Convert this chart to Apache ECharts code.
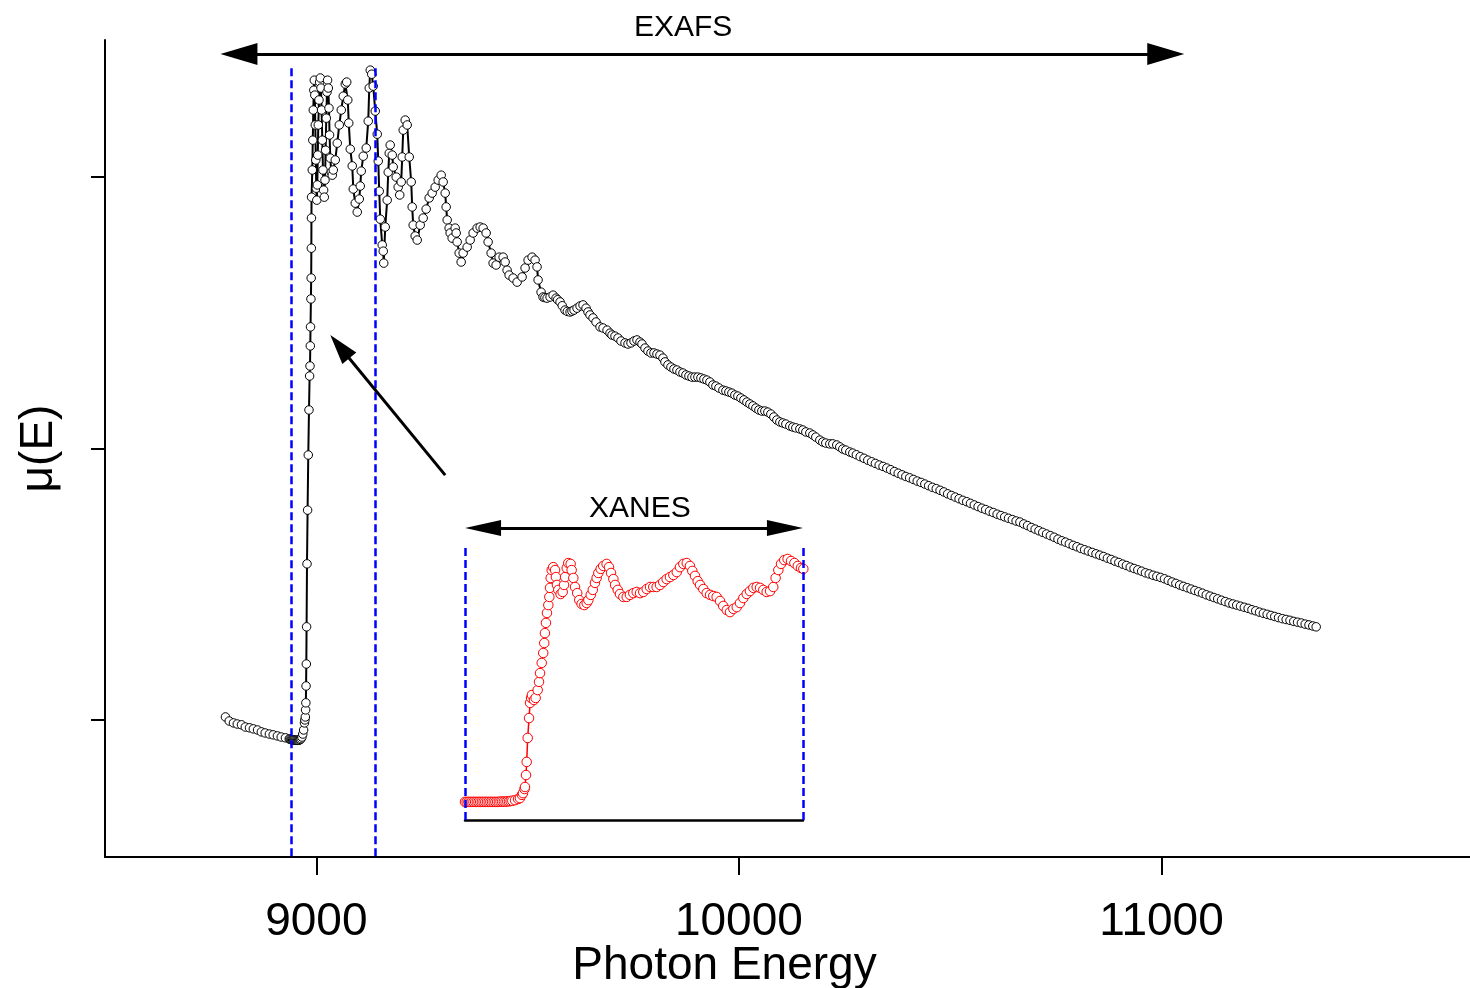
<!DOCTYPE html>
<html>
<head>
<meta charset="utf-8">
<script src="https://cdn.jsdelivr.net/npm/echarts@6/dist/echarts.min.js"></script>
<style>
  html, body { margin: 0; padding: 0; background: #fff; }
  #main { width: 1470px; height: 988px; }
</style>
</head>
<body>
<div id="main"></div>
<script>
// main spectrum, [energy eV, mu(E)]
const preEdge = [
  [8785, 0.011], [8794, -0.004], [8804, -0.011], [8813, -0.015], [8823, -0.018], [8832, -0.026],
  [8842, -0.029], [8851, -0.033], [8861, -0.037], [8870, -0.044], [8879, -0.048], [8889, -0.052],
  [8898, -0.055], [8908, -0.059], [8917, -0.063], [8927, -0.066], [8936, -0.070],
  [8938, -0.071], [8940, -0.072], [8942, -0.073], [8944, -0.074], [8946, -0.074], [8948, -0.075],
  [8950, -0.075], [8952, -0.075], [8954, -0.075], [8956, -0.075], [8958, -0.075], [8960, -0.074],
  [8962, -0.072], [8964, -0.069],
];
const edge = [
  [8966, -0.063], [8968, -0.052], [8970, -0.037], [8972, -0.011], [8973, 0.0], [8974, 0.011],
  [8974.7, 0.037], [8975.3, 0.063], [8975.8, 0.125], [8976.4, 0.206], [8977, 0.343], [8978, 0.575],
  [8979.4, 0.773], [8981, 0.976], [8982.7, 1.142], [8984.2, 1.267], [8985.1, 1.304], [8985.8, 1.378],
  [8986.3, 1.448], [8987.3, 1.551], [8987.9, 1.628], [8988.3, 1.738], [8988.5, 1.849], [8988.8, 1.926],
];
const whiteLine = [
  [8990.5, 2.026], [8991.7, 2.136], [8992.9, 2.247], [8994.1, 2.32], [8995.3, 2.357], [8996.5, 2.302],
  [8997.6, 2.192], [8998.8, 2.063], [9000, 1.959], [9001.2, 1.915], [9002.4, 1.971], [9003.5, 2.081],
  [9004.7, 2.192], [9006.4, 2.284], [9007.8, 2.35], [9009.5, 2.365], [9011.1, 2.328], [9012.5, 2.247],
  [9014.2, 2.136], [9015.8, 2.026], [9017.3, 1.952], [9018.9, 1.926], [9020.6, 1.989], [9022, 2.099],
  [9023.6, 2.217], [9025.3, 2.313], [9026.7, 2.357], [9028.4, 2.328], [9030, 2.254], [9031.4, 2.155],
  [9033.1, 2.07], [9035.5, 2.018], [9037.8, 2.007], [9040.2, 2.026], [9044.9, 2.063], [9049.6, 2.125],
  [9054.4, 2.192], [9059.1, 2.247], [9063.8, 2.298], [9068.6, 2.343], [9072, 2.35], [9074.5, 2.284],
  [9076.8, 2.199], [9080.4, 2.103], [9085.1, 2.041], [9087.5, 1.956], [9092.2, 1.904], [9096.9, 1.871],
  [9101.7, 1.919], [9104, 1.967], [9106.4, 2.022], [9111.1, 2.077], [9118.2, 2.107], [9122.9, 2.206],
  [9125.3, 2.328], [9127.7, 2.394], [9131.2, 2.379], [9134.7, 2.335], [9139.5, 2.243], [9144.2, 2.158],
  [9146.6, 2.059], [9148.9, 1.948], [9151.3, 1.845], [9156, 1.75], [9158.4, 1.727], [9159.6, 1.683],
];
const oscillations = [
  [9163.1, 1.816], [9167.8, 1.915], [9170.2, 2.018], [9172.6, 2.088], [9174.9, 2.118], [9179.7, 2.081],
  [9182, 2.037], [9189.1, 2.0], [9193.8, 1.963], [9197.4, 1.934], [9200.9, 1.982], [9203.3, 2.074],
  [9205.7, 2.173], [9210.4, 2.21], [9215.1, 2.192], [9219.9, 2.074], [9224.6, 1.982], [9226.9, 1.89],
  [9229.3, 1.823], [9234, 1.783], [9238.8, 1.768], [9245.9, 1.823], [9252.9, 1.849], [9260, 1.882],
  [9267.1, 1.923], [9274.2, 1.941], [9281.3, 1.963], [9288.4, 1.989], [9295.5, 2.007], [9300.2, 1.982],
  [9305, 1.941], [9307.3, 1.89], [9309.7, 1.842], [9314.4, 1.812], [9316.8, 1.794], [9321.5, 1.775],
  [9328.6, 1.812], [9331, 1.794], [9333.3, 1.761], [9338.1, 1.72], [9342.8, 1.687], [9347.5, 1.72],
  [9357, 1.742], [9364.1, 1.768], [9371.1, 1.794], [9380.6, 1.812], [9387.7, 1.816], [9394.8, 1.812],
  [9401.9, 1.794], [9406.6, 1.761], [9413.7, 1.72], [9418.4, 1.683], [9425.5, 1.676], [9432.6, 1.705],
  [9442.1, 1.705], [9446.8, 1.687], [9451.5, 1.657], [9456.3, 1.639], [9465.7, 1.628], [9475.2, 1.613],
  [9487, 1.632], [9494.1, 1.665], [9501.2, 1.694], [9510.6, 1.705], [9517.7, 1.694], [9522.4, 1.669],
  [9524.8, 1.621], [9531.9, 1.576], [9536.6, 1.558], [9541, 1.556], [9546.1, 1.554], [9553.2, 1.558],
  [9560.3, 1.565], [9567.4, 1.554], [9571, 1.548], [9576.8, 1.54], [9582, 1.526], [9588.6, 1.51],
  [9594, 1.505], [9600.5, 1.503], [9605, 1.506], [9609.9, 1.51], [9617, 1.517], [9624.1, 1.525],
  [9631.2, 1.529], [9638.3, 1.517], [9643, 1.503], [9647.7, 1.492], [9654.8, 1.481], [9661.9, 1.466],
  [9671.4, 1.448], [9678.5, 1.444], [9688, 1.436], [9695, 1.425], [9699.7, 1.418], [9706.8, 1.414],
  [9713.9, 1.407], [9721, 1.396], [9730.5, 1.389], [9737.6, 1.385], [9744.7, 1.389], [9751.8, 1.396],
  [9758.8, 1.4], [9765.9, 1.392], [9770.7, 1.385], [9777.8, 1.37], [9784.8, 1.359], [9791.9, 1.352],
  [9799, 1.352], [9806.1, 1.348], [9813.2, 1.344], [9820.3, 1.333], [9825, 1.319], [9832.1, 1.308],
  [9839.2, 1.3], [9846.3, 1.293], [9853.4, 1.289], [9860.5, 1.282], [9867.6, 1.278], [9874.7, 1.271],
  [9881.8, 1.267], [9888.9, 1.263], [9896, 1.263], [9903, 1.263], [9910.1, 1.26], [9917.2, 1.256],
  [9924.3, 1.252], [9931.4, 1.245], [9938.5, 1.234], [9945.6, 1.23], [9952.7, 1.223], [9962.1, 1.215],
  [9969.2, 1.212], [9976.3, 1.208], [9983.4, 1.204], [9990.5, 1.197], [9997.6, 1.193], [10004.7, 1.186],
  [10011.8, 1.179], [10018.9, 1.171], [10026, 1.164], [10033.1, 1.157], [10040.2, 1.149], [10047.3, 1.142],
  [10054.3, 1.138], [10061.4, 1.138], [10068.5, 1.134], [10075.6, 1.127], [10082.7, 1.116], [10089.8, 1.105],
  [10096.9, 1.098], [10104, 1.094], [10111.1, 1.09], [10120.5, 1.083], [10127.6, 1.079], [10134.7, 1.076],
  [10144.2, 1.072], [10151.3, 1.068], [10158.4, 1.061], [10167.8, 1.057], [10174.9, 1.05], [10182, 1.042],
  [10191.5, 1.031], [10198.5, 1.024], [10205.6, 1.02], [10215.1, 1.017], [10222.2, 1.017], [10231.6, 1.013],
  [10238.7, 1.006], [10245.8, 0.998], [10252.9, 0.994], [10262.4, 0.987], [10269.5, 0.983],
];
const tail = [
  [10278, 0.977], [10287, 0.97], [10296, 0.964], [10305, 0.957], [10314, 0.951], [10323, 0.945],
  [10332, 0.939], [10341, 0.934], [10350, 0.928], [10359, 0.922], [10368, 0.915], [10377, 0.909],
  [10386, 0.903], [10395, 0.897], [10404, 0.892], [10413, 0.886], [10422, 0.88], [10431, 0.875],
  [10440, 0.869], [10449, 0.863], [10458, 0.857], [10467, 0.852], [10476, 0.846], [10485, 0.84],
  [10494, 0.833], [10503, 0.827], [10512, 0.821], [10521, 0.815], [10530, 0.809], [10539, 0.804],
  [10548, 0.798], [10557, 0.792], [10566, 0.786], [10575, 0.78], [10584, 0.775], [10593, 0.769],
  [10602, 0.764], [10611, 0.758], [10620, 0.753], [10629, 0.748], [10638, 0.743], [10647, 0.738],
  [10656, 0.733], [10665, 0.729], [10674, 0.722], [10683, 0.716], [10692, 0.709], [10701, 0.703],
  [10710, 0.697], [10719, 0.691], [10728, 0.685], [10737, 0.679], [10746, 0.673], [10755, 0.666],
  [10764, 0.66], [10773, 0.655], [10782, 0.649], [10791, 0.643], [10800, 0.638], [10809, 0.632],
  [10818, 0.627], [10827, 0.622], [10836, 0.617], [10845, 0.612], [10854, 0.607], [10863, 0.602],
  [10872, 0.596], [10881, 0.591], [10890, 0.585], [10899, 0.58], [10908, 0.574], [10917, 0.569],
  [10926, 0.563], [10935, 0.558], [10944, 0.553], [10953, 0.548], [10962, 0.542], [10971, 0.538],
  [10980, 0.533], [10989, 0.529], [10998, 0.525], [11007, 0.52], [11016, 0.514], [11025, 0.508],
  [11034, 0.503], [11043, 0.497], [11052, 0.492], [11061, 0.487], [11070, 0.482], [11079, 0.477],
  [11088, 0.472], [11097, 0.467], [11106, 0.461], [11115, 0.456], [11124, 0.451], [11133, 0.446],
  [11142, 0.441], [11151, 0.436], [11160, 0.431], [11169, 0.427], [11178, 0.423], [11187, 0.419],
  [11196, 0.415], [11205, 0.411], [11214, 0.406], [11223, 0.402], [11232, 0.397], [11241, 0.393],
  [11250, 0.389], [11259, 0.385], [11268, 0.381], [11277, 0.377], [11286, 0.373], [11295, 0.37],
  [11304, 0.367], [11313, 0.363], [11322, 0.36], [11331, 0.357], [11340, 0.353], [11349, 0.35],
  [11358, 0.346], [11366, 0.343],
];

// XANES inset (normalised), [energy eV, value]
const xanesFlat = [
  [8940, 0.062], [8941, 0.062], [8942, 0.062], [8943, 0.062], [8944, 0.062], [8945, 0.062],
  [8946, 0.062], [8947, 0.062], [8948, 0.062], [8949, 0.062], [8950, 0.062], [8951, 0.062],
  [8952, 0.062], [8953, 0.062], [8954, 0.062], [8955, 0.062], [8956, 0.062], [8957, 0.062],
  [8958, 0.062], [8959, 0.062], [8960, 0.062], [8961, 0.063], [8962, 0.063], [8963, 0.063],
  [8964, 0.063], [8965, 0.064], [8966, 0.064], [8967, 0.065], [8968, 0.066],
];
const xanesPeaks = [
  [8969.6, 0.068], [8971.4, 0.072], [8972.5, 0.075], [8973.7, 0.086], [8974.3, 0.092], [8975.2, 0.106],
  [8975.5, 0.113], [8976.1, 0.154], [8976.5, 0.199], [8977.1, 0.281], [8977.9, 0.349], [8978.5, 0.401],
  [8979.1, 0.418], [8979.6, 0.428], [8980.8, 0.411], [8981.8, 0.418], [8983, 0.445], [8983.8, 0.473],
  [8984.4, 0.503], [8985.4, 0.538], [8986.3, 0.572], [8986.9, 0.606], [8987.3, 0.64], [8987.9, 0.675],
  [8988.5, 0.709], [8989.3, 0.736], [8989.9, 0.764], [8990.3, 0.795], [8990.7, 0.829], [8991.3, 0.856],
  [8992.2, 0.866], [8993.3, 0.856], [8993.8, 0.832], [8994.4, 0.805], [8995.2, 0.788], [8996.6, 0.774],
  [8997.8, 0.781], [8998.6, 0.805], [8999.2, 0.832], [9000.2, 0.863], [9001.1, 0.88], [9002.5, 0.877],
  [9003.1, 0.856], [9004.1, 0.829], [9005.1, 0.798], [9006.4, 0.777], [9007.6, 0.753], [9009, 0.74],
  [9010.6, 0.736], [9012, 0.743], [9013, 0.753], [9014.4, 0.771], [9015.6, 0.788], [9016.9, 0.812],
  [9017.9, 0.829], [9018.9, 0.846], [9020.3, 0.86], [9021.8, 0.87], [9023.8, 0.877], [9025.2, 0.866],
  [9026.4, 0.846], [9027.8, 0.825], [9028.8, 0.805], [9030.4, 0.788], [9031.7, 0.774], [9033.7, 0.764],
  [9035.7, 0.764], [9037.6, 0.771], [9039.6, 0.777], [9041.6, 0.781], [9043.6, 0.777], [9045.5, 0.781],
  [9047.5, 0.791], [9049.5, 0.798], [9051.4, 0.798], [9053.4, 0.798], [9055.4, 0.805], [9057.3, 0.815],
  [9059.3, 0.825], [9061.3, 0.832], [9063.3, 0.839], [9065.3, 0.849], [9067.2, 0.866], [9069.2, 0.877],
  [9071.2, 0.88], [9073.1, 0.87], [9074.5, 0.853], [9076.1, 0.836], [9077.7, 0.818], [9079.1, 0.805],
  [9081, 0.791], [9083, 0.777], [9085, 0.771], [9086.9, 0.767], [9088.9, 0.764], [9090.9, 0.75],
  [9092.8, 0.733], [9094.9, 0.719], [9096.8, 0.712], [9098.8, 0.723], [9100.8, 0.729], [9102.7, 0.743],
  [9104.7, 0.76], [9106.7, 0.774], [9108.6, 0.784], [9110.6, 0.795], [9112.6, 0.798], [9114.6, 0.795],
  [9116.5, 0.788], [9118.5, 0.781], [9120.5, 0.784], [9122.4, 0.798], [9123.8, 0.829], [9125.4, 0.856],
  [9127, 0.877], [9128.9, 0.89], [9130.9, 0.894], [9132.9, 0.887], [9134.9, 0.88], [9136.9, 0.87],
  [9138.8, 0.863], [9140.2, 0.86],
];

const energyTicks = [9000, 10000, 11000];
const muTicks = [0, 1, 2];
const xanesRange = [8940, 9140];

const mainCurve = [].concat(preEdge, edge, whiteLine, oscillations, tail);
const xanesCurve = [].concat(xanesFlat, xanesPeaks);

const font = 'Liberation Sans, Arial, sans-serif';
const blueDash = { color: '#0000ff', width: 2.5, type: [8, 4] };
const arrowLine = { color: '#000', width: 3, type: 'solid' };

var chartDom = document.getElementById('main');
var myChart = echarts.init(chartDom, null, { renderer: 'canvas' });

var option = {
  animation: false,
  backgroundColor: '#fff',
  grid: [
    { left: 105, right: 0, top: 40, bottom: 131, outerBoundsMode: 'none' },
    { left: 465, right: 667, top: 528, bottom: 168, outerBoundsMode: 'none' },
  ],
  xAxis: [
    {
      type: 'value',
      gridIndex: 0,
      min: 8500,
      max: 11730,
      name: 'Photon Energy',
      nameLocation: 'middle',
      nameGap: 86,
      nameMoveOverlap: false,
      // axis name sits left of the axis centre in the original
      nameTextStyle: { fontSize: 46, color: '#000', fontFamily: font, padding: [0, 126, 0, 0] },
      axisLine: { show: true, onZero: false, lineStyle: { color: '#000', width: 2 } },
      axisTick: { show: true, customValues: energyTicks, length: 18, lineStyle: { color: '#000', width: 2 } },
      axisLabel: {
        show: true,
        customValues: energyTicks,
        fontSize: 46,
        margin: 42,
        color: '#000',
        fontFamily: font,
        formatter: (v) => String(v),
      },
      splitLine: { show: false },
    },
    {
      type: 'value',
      gridIndex: 1,
      min: xanesRange[0],
      max: xanesRange[1],
      axisLine: { show: true, onZero: false, lineStyle: { color: '#000', width: 2.5 } },
      axisTick: { show: false },
      axisLabel: { show: false },
      splitLine: { show: false },
    },
  ],
  yAxis: [
    {
      type: 'value',
      gridIndex: 0,
      min: -0.505,
      max: 2.505,
      name: 'μ(E)',
      nameLocation: 'middle',
      nameGap: 43,
      nameMoveOverlap: false,
      nameTextStyle: { fontSize: 46, color: '#000', fontFamily: font },
      axisLine: { show: true, onZero: false, lineStyle: { color: '#000', width: 2 } },
      axisTick: { show: true, customValues: muTicks, length: 14, lineStyle: { color: '#000', width: 2 } },
      axisLabel: { show: false },
      splitLine: { show: false },
    },
    {
      type: 'value',
      gridIndex: 1,
      min: 0,
      max: 1,
      show: false,
      splitLine: { show: false },
    },
  ],
  series: [
    {
      name: 'mu',
      type: 'line',
      xAxisIndex: 0,
      yAxisIndex: 0,
      data: mainCurve,
      clip: false,
      symbol: 'circle',
      symbolSize: 8.5,
      showAllSymbol: true,
      itemStyle: { color: '#fff', borderColor: '#000', borderWidth: 1 },
      lineStyle: { color: '#000', width: 2 },
      emphasis: { disabled: true },
      markLine: {
        silent: true,
        animation: false,
        symbol: ['none', 'none'],
        label: { show: false },
        emphasis: { disabled: true },
        data: [
          // xanes window
          [{ coord: [xanesRange[0], 2.401], lineStyle: blueDash }, { coord: [xanesRange[0], -0.505], lineStyle: blueDash }],
          [{ coord: [xanesRange[1], 2.401], lineStyle: blueDash }, { coord: [xanesRange[1], -0.505], lineStyle: blueDash }],
          // EXAFS double arrow
          [
            { coord: [8817, 2.453], symbol: 'triangle', symbolSize: [22, 37], lineStyle: arrowLine },
            { coord: [11010, 2.453], symbol: 'triangle', symbolSize: [22, 37], lineStyle: arrowLine },
          ],
          // pointer to the edge
          [
            { coord: [9305, 0.902], symbol: 'none', lineStyle: arrowLine },
            { coord: [9055.6, 1.375], symbol: 'triangle', symbolSize: [18, 30], lineStyle: arrowLine },
          ],
        ],
      },
      markPoint: {
        silent: true,
        symbol: 'circle',
        symbolSize: 0,
        itemStyle: { color: 'rgba(0,0,0,0)' },
        label: { show: true, position: 'inside', color: '#000', fontSize: 30, fontFamily: font },
        data: [{ coord: [9868, 2.453], label: { formatter: 'EXAFS', offset: [0, -26] } }],
      },
    },
    {
      name: 'xanes',
      type: 'line',
      xAxisIndex: 1,
      yAxisIndex: 1,
      data: xanesCurve,
      clip: false,
      symbol: 'circle',
      symbolSize: 9.5,
      showAllSymbol: true,
      itemStyle: { color: '#fff', borderColor: '#ff0000', borderWidth: 1 },
      lineStyle: { color: '#ff0000', width: 1.5 },
      emphasis: { disabled: true },
      markLine: {
        silent: true,
        animation: false,
        symbol: ['none', 'none'],
        label: { show: false },
        emphasis: { disabled: true },
        data: [
          [{ coord: [xanesRange[0], 0], lineStyle: blueDash }, { coord: [xanesRange[0], 0.932], lineStyle: blueDash }],
          [{ coord: [xanesRange[1], 0], lineStyle: blueDash }, { coord: [xanesRange[1], 0.932], lineStyle: blueDash }],
          [
            { coord: [8950.7, 1], symbol: 'triangle', symbolSize: [16, 36], lineStyle: arrowLine },
            { coord: [9129.3, 1], symbol: 'triangle', symbolSize: [16, 36], lineStyle: arrowLine },
          ],
        ],
      },
      markPoint: {
        silent: true,
        symbol: 'circle',
        symbolSize: 0,
        itemStyle: { color: 'rgba(0,0,0,0)' },
        label: { show: true, position: 'inside', color: '#000', fontSize: 30, fontFamily: font },
        data: [{ coord: [9043.5, 1], label: { formatter: 'XANES', offset: [0, -19] } }],
      },
    },
  ],
};

option && myChart.setOption(option);
</script>
</body>
</html>
